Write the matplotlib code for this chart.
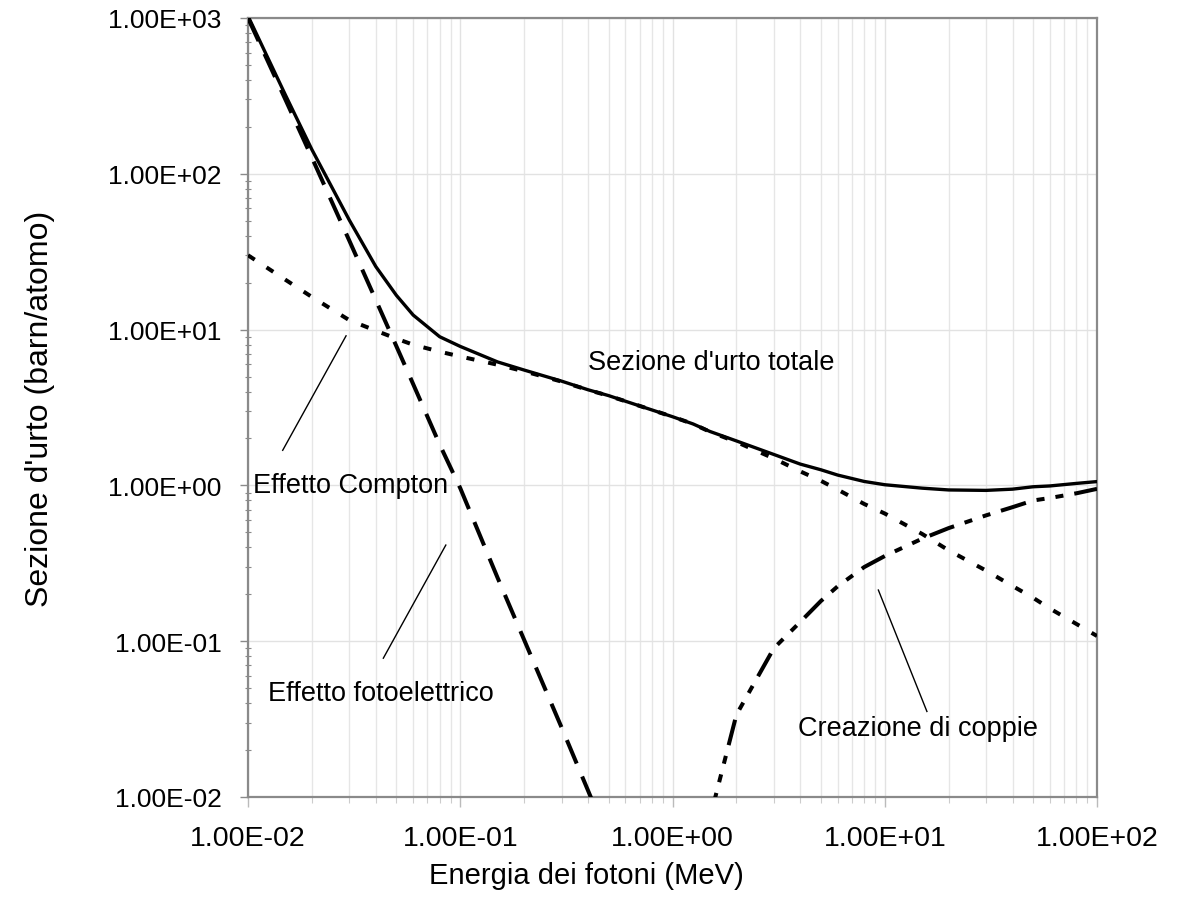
import matplotlib
matplotlib.use("Agg")
import matplotlib.pyplot as plt
from matplotlib import font_manager
from matplotlib.ticker import FuncFormatter, LogLocator, NullFormatter

# photon energy grid (MeV) and cross sections (barn/atom)
energy = [0.01, 0.015, 0.02, 0.03, 0.04, 0.05, 0.06, 0.08, 0.1, 0.15, 0.2, 0.3,
          0.4, 0.5, 0.6, 0.8, 1.0, 1.25, 1.5, 2.0, 3.0, 4.0, 5.0, 6.0, 8.0,
          10.0, 15.0, 20.0, 30.0, 40.0, 50.0, 60.0, 80.0, 100.0]
total = [1030, 321, 143, 50.5, 25.4, 16.6, 12.4, 9.0, 7.8, 6.2, 5.5, 4.67,
         4.11, 3.77, 3.47, 3.05, 2.76, 2.48, 2.22, 1.93, 1.58, 1.37, 1.26, 1.165, 1.06,
         1.01, 0.96, 0.935, 0.929, 0.946, 0.98, 0.992, 1.03, 1.058]
compton = [30, 20.9, 16.2, 11.5, 9.85, 8.75, 8.0, 7.22, 6.72, 5.95, 5.4, 4.64,
           4.1, 3.76, 3.47, 3.05, 2.76, 2.48, 2.21, 1.9, 1.49, 1.23, 1.07, 0.94, 0.76,
           0.66, 0.488, 0.383, 0.284, 0.226, 0.19, 0.162, 0.129, 0.108]

photo_energy = [0.01, 0.015, 0.02, 0.03, 0.04, 0.05, 0.06, 0.08, 0.1, 0.15, 0.2,
                0.3, 0.4, 0.5]
photo = [1000, 300, 127, 37.3, 15.5, 7.83, 4.47, 1.83, 0.96, 0.255, 0.102,
         0.028, 0.011, 0.0053]

pair_energy = [1.5, 2.0, 3.0, 4.0, 5.0, 6.0, 8.0, 10.0, 15.0, 20.0, 30.0, 40.0,
               50.0, 60.0, 80.0, 100.0]
pair = [0.0073, 0.0337, 0.09, 0.133, 0.181, 0.225, 0.299, 0.352, 0.455, 0.532,
        0.642, 0.725, 0.8, 0.83, 0.89, 0.95]

names = {f.name for f in font_manager.fontManager.ttflist}
plt.rcParams["font.family"] = ["Liberation Sans", "DejaVu Sans"]
if "Liberation Sans Narrow" in names:
    label_family = ["Liberation Sans Narrow", "Liberation Sans"]
    xlabel_size, ylabel_size = 25, 27
else:
    label_family = ["Liberation Sans", "DejaVu Sans"]
    xlabel_size, ylabel_size = 21, 23

fig = plt.figure(figsize=(11.85, 9.2), dpi=100)
ax = fig.add_axes([248 / 1185, 1 - 798 / 920, 849 / 1185, 779 / 920])

lw = 2.9
ax.plot(energy, total, color="black", lw=2.4, solid_joinstyle="round", zorder=5)
ax.plot(photo_energy, photo, color="black", lw=lw, linestyle=(0, (6.3, 3.5)),
        dash_capstyle="butt", zorder=4)
ax.plot(energy, compton, color="black", lw=lw, linestyle=(0, (2.0, 3.5)),
        dash_capstyle="butt", zorder=4)
ax.plot(pair_energy, pair, color="black", lw=lw,
        linestyle=(0, (6.5, 2.75, 2.0, 2.75, 2.0, 2.75)),
        dash_capstyle="butt", zorder=4)

ax.set_xscale("log")
ax.set_yscale("log")
ax.set_xlim(0.01, 100)
ax.set_ylim(0.01, 1000)

ax.xaxis.set_major_locator(LogLocator(base=10, numticks=10))
ax.xaxis.set_minor_locator(LogLocator(base=10, subs=range(2, 10), numticks=50))
ax.yaxis.set_major_locator(LogLocator(base=10, numticks=10))
ax.yaxis.set_minor_locator(LogLocator(base=10, subs=range(2, 10), numticks=50))
sci = FuncFormatter(lambda v, pos: f"{v:.2E}")
ax.xaxis.set_major_formatter(sci)
ax.yaxis.set_major_formatter(sci)
ax.xaxis.set_minor_formatter(NullFormatter())
ax.yaxis.set_minor_formatter(NullFormatter())

ax.grid(True, which="major", axis="both", color="#e2e2e2", lw=1.0)
ax.grid(True, which="minor", axis="x", color="#e6e6e6", lw=1.0)
ax.set_axisbelow(True)

for side in ["left", "right", "top", "bottom"]:
    ax.spines[side].set_color("#8a8a8a")
    ax.spines[side].set_linewidth(1.6)

ax.tick_params(axis="x", which="major", direction="out", length=7, width=1,
               color="#bbbbbb", labelsize=20.5, pad=13)
ax.tick_params(axis="x", which="minor", direction="out", length=4, width=0.8,
               color="#cccccc")
ax.tick_params(axis="y", which="major", direction="out", length=6, width=1,
               color="#8a8a8a", labelsize=19, pad=13)
ax.tick_params(axis="y", which="minor", direction="inout", length=5, width=0.8,
               color="#8a8a8a")

ax.set_xlabel("Energia dei fotoni (MeV)", family=label_family,
              fontsize=xlabel_size, va="center")
ax.xaxis.set_label_coords((586 - 248) / 849, (798 - 876) / 779)
ax.set_ylabel("Sezione d'urto (barn/atomo)", family=label_family,
              fontsize=ylabel_size, va="center")
ax.yaxis.set_label_coords((40 - 248) / 849, 0.5)

note = dict(fontsize=19.5, ha="center", va="center", zorder=6)
ax.text(1.53, 6.24, "Sezione d'urto totale", **note)
ax.text(0.0303, 1.0, "Effetto Compton", **note)
ax.text(0.0424, 0.0464, "Effetto fotoelettrico", **note)
ax.text(14.4, 0.0277, "Creazione di coppie", **note)

leader = dict(color="black", lw=1.0, zorder=6)
ax.plot([0.01457, 0.02897], [1.68, 9.12], **leader)
ax.plot([0.04341, 0.0855], [0.0778, 0.414], **leader)
ax.plot([9.33, 15.8], [0.213, 0.0354], **leader)

fig.savefig("out.png", dpi=100, facecolor="white")
